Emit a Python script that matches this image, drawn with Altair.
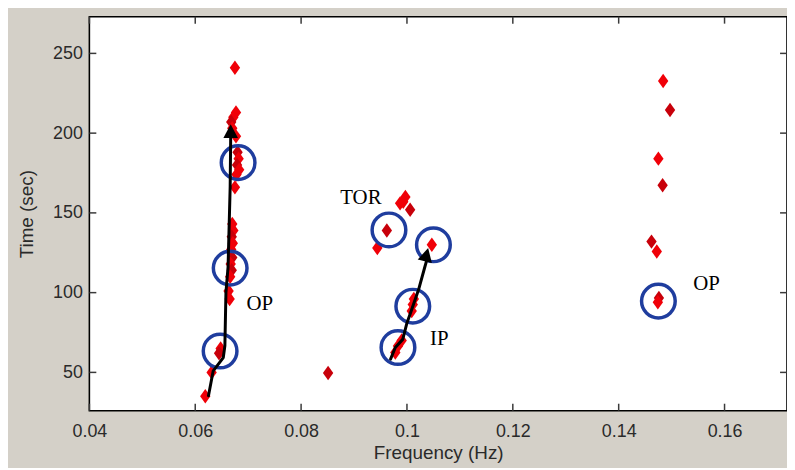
import altair as alt
import pandas as pd

# ---------------- data ----------------
# red diamond detections (frequency Hz, time sec, shade)
pt_x = [0.0675, 0.0677, 0.0672, 0.0668, 0.0670, 0.0677,
        0.0680, 0.0682, 0.0679, 0.0683, 0.0678, 0.0675,
        0.0670, 0.0672, 0.0669, 0.0671, 0.0668, 0.0670, 0.0667, 0.0669, 0.0666,
        0.0663, 0.0665, 0.0648, 0.0645, 0.0631, 0.0619,
        0.0997, 0.0987, 0.0993, 0.1006, 0.0962, 0.0944, 0.1047,
        0.1011, 0.1009, 0.1013, 0.0983, 0.0978, 0.0990, 0.0851,
        0.1484, 0.1497, 0.1475, 0.1483, 0.1462, 0.1472, 0.1476, 0.1474]
pt_y = [241, 213, 210, 207, 203, 198,
        188, 184, 180, 177, 174, 166,
        143, 139, 135, 131, 127, 122, 118, 114, 110,
        101, 96, 65, 62, 50, 35,
        160, 156, 157, 152, 139, 128, 130,
        92.5, 88.5, 96, 66.5, 62.5, 70, 49.6,
        232.7, 214.5, 184, 167.3, 132, 125.8, 96.7, 94]
pt_shade = ["b", "b", "b", "d", "b", "b",
            "d", "b", "d", "b", "b", "b",
            "b", "b", "d", "b", "b", "d", "b", "d", "b",
            "b", "b", "b", "d", "b", "b",
            "b", "b", "b", "d", "d", "b", "b",
            "b", "b", "b", "b", "b", "b", "d",
            "b", "d", "b", "d", "d", "b", "d", "b"]

# blue circles
circ_x = [0.0681, 0.0666, 0.0647, 0.0966, 0.1050, 0.1011, 0.0983, 0.1475]
circ_y = [181.5, 115.4, 63.4, 139.3, 130.0, 91.5, 65.6, 94.7]

# arrows (polylines)
arr_left_x = [0.0625, 0.0634, 0.0653, 0.0656, 0.0658, 0.0662, 0.0666, 0.0667]
arr_left_y = [35.4, 51.0, 59.3, 66.6, 100.0, 116.0, 166.3, 198.0]
arr_ip_x = [0.0969, 0.0978, 0.0992, 0.1000, 0.1009, 0.1022, 0.1034, 0.1038]
arr_ip_y = [58.3, 65.6, 70.7, 81.0, 89.4, 101.9, 116.4, 121.0]
head_x = [0.0667, 0.1040]
head_y = [205.5, 128.0]
head_angle = [0, 14]

# annotation labels
lab_text = ["OP", "TOR", "IP", "OP"]
lab_x = [0.0722, 0.0913, 0.1061, 0.1566]
lab_y = [93.0, 159.0, 70.8, 105.3]

x_ticks = [0.04, 0.06, 0.08, 0.10, 0.12, 0.14, 0.16]
y_ticks = [50, 100, 150, 200, 250]

# ---------------- chart ----------------
W, H = 703, 397
xs = alt.Scale(domain=[0.04, 0.1718], nice=False, zero=False)
ys = alt.Scale(domain=[26, 273], nice=False, zero=False)

AX_FONT = "Liberation Sans"
TXT = "#2a2a2a"

df_pts = pd.DataFrame({"x": pt_x, "y": pt_y, "shade": pt_shade})
df_circ = pd.DataFrame({"x": circ_x, "y": circ_y})
df_arr = pd.concat([
    pd.DataFrame({"x": arr_left_x, "y": arr_left_y, "id": "left", "o": range(len(arr_left_x))}),
    pd.DataFrame({"x": arr_ip_x, "y": arr_ip_y, "id": "ip", "o": range(len(arr_ip_x))}),
])
df_head = pd.DataFrame({"x": head_x, "y": head_y, "ang": head_angle})
df_lab = pd.DataFrame({"t": lab_text, "x": lab_x, "y": lab_y})
df_xt = pd.DataFrame({"v": x_ticks})
df_yt = pd.DataFrame({"v": y_ticks})

DIAMOND = "M0,-1L0.72,0L0,1L-0.72,0Z"
HEAD = "M0,0L0.85,1.6L-0.85,1.6Z"

xaxis = alt.Axis(values=x_ticks, format="~g", title="Frequency (Hz)",
                 ticks=False, tickSize=0, domain=False, grid=False,
                 labelFlush=False, labelOverlap=False,
                 labelPadding=12, titlePadding=3,
                 labelFont=AX_FONT, labelFontSize=18, labelColor=TXT,
                 titleFont=AX_FONT, titleFontSize=19, titleColor=TXT,
                 titleFontWeight="normal")
yaxis = alt.Axis(values=y_ticks, title="Time (sec)",
                 ticks=False, tickSize=0, domain=False, grid=False,
                 labelFlush=False, labelOverlap=False,
                 labelPadding=7, titlePadding=16,
                 labelFont=AX_FONT, labelFontSize=18, labelColor=TXT,
                 titleFont=AX_FONT, titleFontSize=19, titleColor=TXT,
                 titleFontWeight="normal")

points = alt.Chart(df_pts).mark_point(shape=DIAMOND, filled=True, size=210, opacity=1).encode(
    x=alt.X("x:Q", scale=xs, axis=xaxis),
    y=alt.Y("y:Q", scale=ys, axis=yaxis),
    color=alt.Color("shade:N", scale=alt.Scale(domain=["b", "d"], range=["#f00008", "#c8000a"]),
                    legend=None),
)

circles = alt.Chart(df_circ).mark_point(shape="circle", filled=False, size=1150,
                                        strokeWidth=3.5, color="#1f3d9e", opacity=1).encode(
    x=alt.X("x:Q", scale=xs), y=alt.Y("y:Q", scale=ys))

arrows = alt.Chart(df_arr).mark_line(color="black", strokeWidth=3, strokeCap="round",
                                     strokeJoin="round").encode(
    x=alt.X("x:Q", scale=xs), y=alt.Y("y:Q", scale=ys),
    detail="id:N", order="o:Q")

heads = alt.Chart(df_head).mark_point(shape=HEAD, filled=True, size=300, color="black",
                                      opacity=1, strokeWidth=0).encode(
    x=alt.X("x:Q", scale=xs), y=alt.Y("y:Q", scale=ys),
    angle=alt.Angle("ang:Q", scale=None))

labels = alt.Chart(df_lab).mark_text(font="Liberation Serif", fontSize=21, color="black").encode(
    x=alt.X("x:Q", scale=xs), y=alt.Y("y:Q", scale=ys), text="t:N")

TK = "#3a3a3a"
xt_bot = alt.Chart(df_xt).mark_rule(color=TK, strokeWidth=1.5).encode(
    x=alt.X("v:Q", scale=xs), y=alt.value(H), y2=alt.value(H - 7))
xt_top = alt.Chart(df_xt).mark_rule(color=TK, strokeWidth=1.5).encode(
    x=alt.X("v:Q", scale=xs), y=alt.value(0), y2=alt.value(7))
yt_left = alt.Chart(df_yt).mark_rule(color=TK, strokeWidth=1.5).encode(
    y=alt.Y("v:Q", scale=ys), x=alt.value(0), x2=alt.value(7))
yt_right = alt.Chart(df_yt).mark_rule(color=TK, strokeWidth=1.5).encode(
    y=alt.Y("v:Q", scale=ys), x=alt.value(W - 7), x2=alt.value(W))

chart = alt.layer(
    points, xt_bot, xt_top, yt_left, yt_right, circles, arrows, heads, labels
).properties(
    width=W, height=H,
    autosize=alt.AutoSizeParams(type="none"),
    padding={"left": 82, "top": 7, "right": 0, "bottom": 56},
    background="#d4d0c8",
).configure_view(
    fill="white", stroke="black", strokeWidth=1.6
)

chart.save("out.html", embed_options={"renderer": "svg", "actions": False})
